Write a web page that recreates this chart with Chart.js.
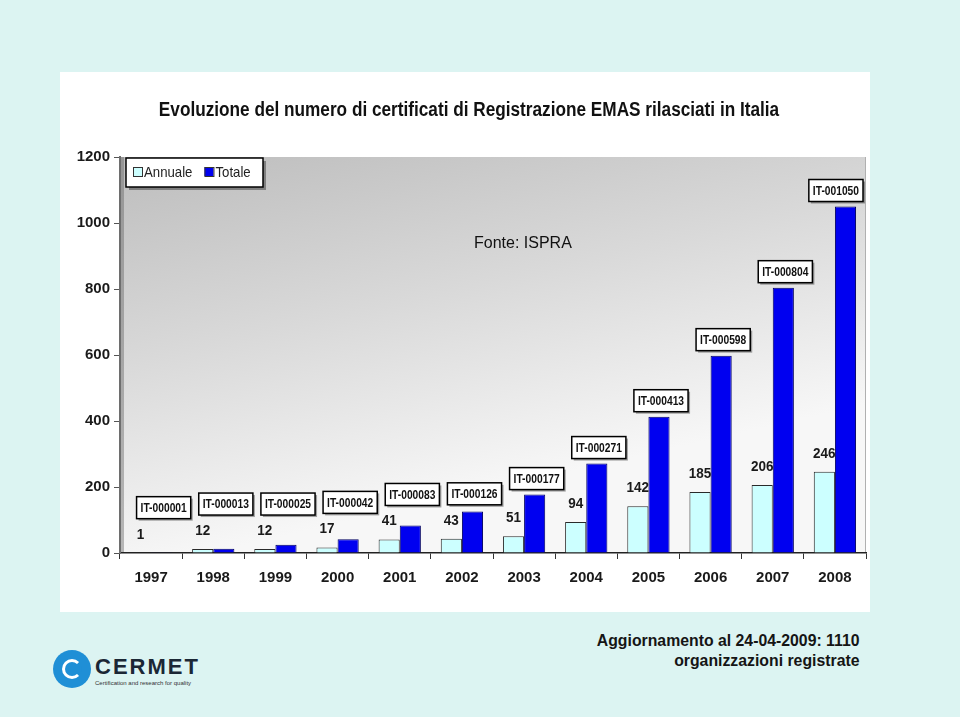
<!DOCTYPE html>
<html>
<head>
<meta charset="utf-8">
<script src="https://cdn.jsdelivr.net/npm/chart.js@4.4.1/dist/chart.umd.min.js"></script>
<style>
  html, body { margin: 0; padding: 0; }
  body { width: 960px; height: 717px; background: #dcf4f2; position: relative; overflow: hidden; font-family: "Liberation Sans", Arial, sans-serif; }
  #panel { position: absolute; left: 60px; top: 72px; width: 810px; height: 540px; background: #ffffff; }
  #fonte { position: absolute; left: 474px; top: 234px; font-size: 16px; color: #111; }
  #note { position: absolute; right: 100px; top: 631px; font-size: 17px; font-weight: bold; line-height: 20px; text-align: right; color: #151515; transform: scaleX(0.93); transform-origin: right top; white-space: nowrap; }
  #logo { position: absolute; left: 53px; top: 650px; width: 160px; height: 42px; }
  #logo .circ { position: absolute; left: 0; top: 0; width: 38px; height: 38px; border-radius: 50%; background: #1f8fd6; }
  #logo .circ::before { content: ""; position: absolute; left: 9px; top: 9px; width: 14px; height: 14px; border-radius: 50%; border: 3px solid #fff; border-right-color: transparent; }
  #logo .circ::after { content: ""; position: absolute; left: 15px; top: 16px; width: 14px; height: 6px; background: #1f8fd6; border-radius: 3px; }
  #logo .name { position: absolute; left: 42px; top: 4px; font-weight: bold; font-size: 22px; letter-spacing: 2px; color: #1b2735; }
  #logo .sub { position: absolute; left: 42px; top: 30px; font-size: 6px; color: #333; white-space: nowrap; }
</style>
</head>
<body>
<div id="panel"><canvas id="emasChart"></canvas></div>
<div id="fonte">Fonte: ISPRA</div>
<div id="note">Aggiornamento al 24-04-2009: 1110<br>organizzazioni registrate</div>
<div id="logo"><div class="circ"></div><div class="name">CERMET</div><div class="sub">Certification and research for quality</div></div>
<script>
(function () {
  "use strict";

  // data
  const years = ['1997', '1998', '1999', '2000', '2001', '2002', '2003', '2004', '2005', '2006', '2007', '2008'];
  const annuale = [1, 12, 12, 17, 41, 43, 51, 94, 142, 185, 206, 246];
  const totale = [1, 13, 25, 42, 83, 126, 177, 271, 413, 598, 804, 1050];
  const seriesNames = ['Annuale', 'Totale'];
  const yMax = 1200;
  const yStep = 200;
  const titleText = 'Evoluzione del numero di certificati di Registrazione EMAS rilasciati in Italia';

  const fontFamily = '"Liberation Sans", Arial, sans-serif';
  const color_annuale = '#ccffff';
  const color_totale = '#0000f0';

  // draw text squeezed horizontally (the original uses a narrow font)
  function narrowText(ctx, text, x, y, sx) {
    ctx.save();
    ctx.translate(x, y);
    ctx.scale(sx, 1);
    ctx.fillText(text, 0, 0);
    ctx.restore();
  }

  // gray gradient behind the plot + edges
  const plotBackground = {
    id: 'plotBackground',
    beforeDraw(chart) {
      const { ctx, chartArea: a } = chart;
      const w = a.right - a.left;
      ctx.save();
      const g = ctx.createLinearGradient(a.left, a.top, a.left + w * 0.12, a.bottom);
      g.addColorStop(0, '#bdbdbd');
      g.addColorStop(0.5, '#d9d9d9');
      g.addColorStop(1, '#f7f7f7');
      ctx.fillStyle = g;
      ctx.fillRect(a.left, a.top, w, a.bottom - a.top);
      ctx.fillStyle = 'rgba(90,90,90,0.4)';
      ctx.fillRect(a.left, a.top, 4, a.bottom - a.top);
      ctx.strokeStyle = '#b0b0b0';
      ctx.lineWidth = 1;
      ctx.beginPath();
      ctx.moveTo(a.right - 0.5, a.top);
      ctx.lineTo(a.right - 0.5, a.bottom);
      ctx.stroke();
      ctx.restore();
    }
  };

  // chart title, condensed bold
  const narrowTitle = {
    id: 'narrowTitle',
    afterDraw(chart) {
      const { ctx } = chart;
      ctx.save();
      ctx.font = 'bold 20px ' + fontFamily;
      ctx.fillStyle = '#111';
      ctx.textBaseline = 'middle';
      const sx = 0.86;
      const w = ctx.measureText(titleText).width * sx;
      narrowText(ctx, titleText, (chart.width - w) / 2 + 4, 38, sx);
      ctx.restore();
    }
  };

  function shadowBox(ctx, x, y, w, h, off) {
    ctx.fillStyle = 'rgba(0,0,0,0.35)';
    ctx.fillRect(x + off, y + off, w, h);
    ctx.fillStyle = '#ffffff';
    ctx.fillRect(x, y, w, h);
    ctx.strokeStyle = '#000000';
    ctx.lineWidth = 1.5;
    ctx.strokeRect(x, y, w, h);
  }

  // legend box in the top-left corner of the plot
  const boxLegend = {
    id: 'boxLegend',
    afterDraw(chart) {
      const { ctx, chartArea: a } = chart;
      const x = a.left + 6, y = a.top + 1, w = 137, h = 29;
      const sx = 0.88;
      ctx.save();
      shadowBox(ctx, x, y, w, h, 3);
      ctx.font = '15px ' + fontFamily;
      ctx.textBaseline = 'middle';
      let cx = x + 7;
      chart.data.datasets.forEach(function (ds) {
        ctx.fillStyle = ds.backgroundColor;
        ctx.fillRect(cx, y + 9, 9, 9);
        ctx.strokeStyle = '#333';
        ctx.lineWidth = 1;
        ctx.strokeRect(cx + 0.5, y + 9.5, 9, 9);
        ctx.fillStyle = '#222';
        narrowText(ctx, ds.label, cx + 11, y + h / 2, sx);
        cx += 11 + ctx.measureText(ds.label).width * sx + 12;
      });
      ctx.restore();
    }
  };

  // value labels over Annuale and boxed codes over Totale
  const barLabels = {
    id: 'barLabels',
    afterDatasetsDraw(chart) {
      const { ctx, chartArea: a } = chart;
      const metaA = chart.getDatasetMeta(0);
      const metaT = chart.getDatasetMeta(1);
      ctx.save();
      metaA.data.forEach(function (bar, i) {
        ctx.font = 'bold 15px ' + fontFamily;
        ctx.fillStyle = '#1a1a1a';
        ctx.textBaseline = 'alphabetic';
        const txt = String(annuale[i]);
        const tw = ctx.measureText(txt).width * 0.9;
        const labelBase = bar.y - 14;
        narrowText(ctx, txt, bar.x - tw / 2, labelBase, 0.9);
        const labelTop = labelBase - 15;

        const tb = metaT.data[i];
        const code = 'IT-' + String(totale[i]).padStart(6, '0');
        ctx.font = 'bold 12.5px ' + fontFamily;
        const sx = 0.82;
        const cw = ctx.measureText(code).width * sx;
        const w = cw + 8;
        const h = 22;
        const bottom = Math.min(tb.y - 5, labelTop - 5);
        const bx = Math.min(tb.x - w / 2 + 2, a.right - w - 3);
        shadowBox(ctx, bx, bottom - h, w, h, 2);
        ctx.fillStyle = '#111';
        ctx.textBaseline = 'middle';
        narrowText(ctx, code, bx + 4, bottom - h / 2 + 1, sx);
      });
      ctx.restore();
    }
  };

  const ctx = document.getElementById('emasChart').getContext('2d');
  new Chart(ctx, {
    type: 'bar',
    data: {
      labels: years,
      datasets: [{
        label: seriesNames[0],
        data: annuale,
        backgroundColor: color_annuale,
        borderColor: '#2a2a2a',
        borderWidth: 1
      },
      {
        label: seriesNames[1],
        data: totale,
        backgroundColor: color_totale,
        borderColor: '#000060',
        borderWidth: 1
      }]
    },
    options: {
      responsive: true,
      maintainAspectRatio: false,
      devicePixelRatio: 1,
      animation: false,
      categoryPercentage: 0.68,
      barPercentage: 1.0,
      layout: {
        padding: { left: 0, right: 4, top: 85, bottom: 0 }
      },
      scales: {
        x: {
          grid: {
            display: true,
            offset: true,
            drawOnChartArea: false,
            drawTicks: true,
            tickLength: 6,
            color: '#333'
          },
          border: { display: true, color: '#222', width: 1.5 },
          ticks: {
            color: '#1a1a1a',
            padding: 10,
            font: { family: fontFamily, size: 15, weight: 'bold' }
          },
          afterFit(scale) { scale.height = 59; }
        },
        y: {
          min: 0,
          max: yMax,
          ticks: {
            stepSize: yStep,
            color: '#1a1a1a',
            padding: 4,
            font: { family: fontFamily, size: 15, weight: 'bold' },
            callback: (v) => String(v)
          },
          grid: {
            display: true,
            drawOnChartArea: false,
            drawTicks: true,
            tickLength: 6,
            color: '#555'
          },
          border: { display: true, color: '#6e6e6e', width: 2 },
          afterFit(scale) { scale.width = 60; }
        }
      },
      plugins: {
        legend: { display: false },
        tooltip: { enabled: false },
        title: { display: false }
      }
    },
    plugins: [plotBackground, narrowTitle, boxLegend, barLabels]
  });
})();
</script>
</body>
</html>
